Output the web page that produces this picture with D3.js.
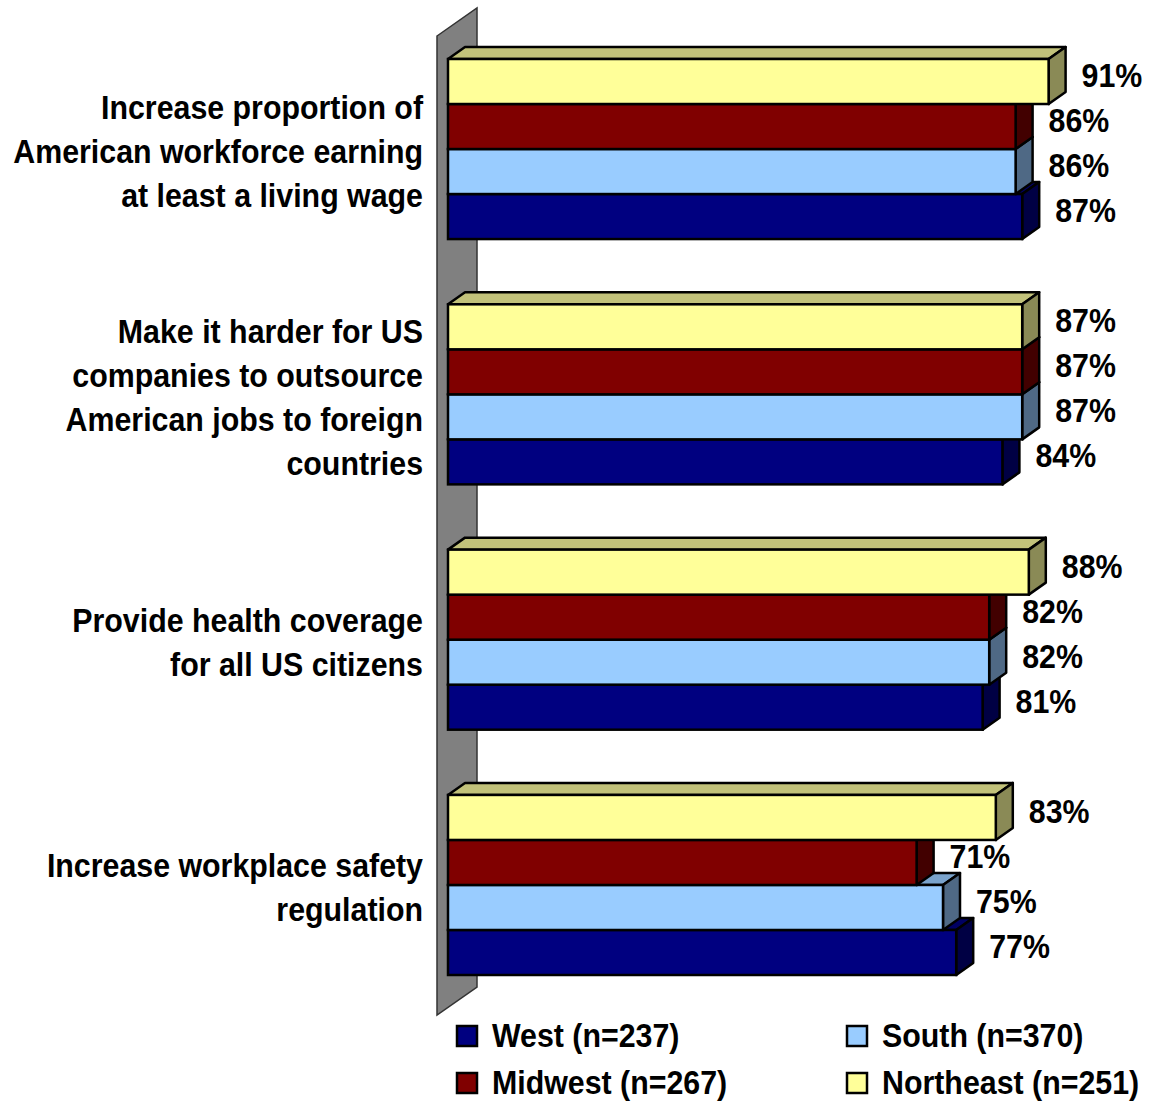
<!DOCTYPE html>
<html>
<head>
<meta charset="utf-8">
<script src="https://cdn.jsdelivr.net/npm/d3@7"></script>
<style>
  html, body { margin: 0; padding: 0; background: #fff; }
  svg text { font-family: "Liberation Sans", Arial, "DejaVu Sans", sans-serif; font-weight: bold; fill: #000; }
</style>
</head>
<body>
<svg id="chart" width="1156" height="1104"></svg>
<script>
const categories = [
  ["Increase proportion of", "American workforce earning", "at least a living wage"],
  ["Make it harder for US", "companies to outsource", "American jobs to foreign", "countries"],
  ["Provide health coverage", "for all US citizens"],
  ["Increase workplace safety", "regulation"]
];
const categoryKeys = ["living_wage", "outsource", "health", "safety"];
const seriesNames = ["Northeast", "Midwest", "South", "West"];
const legendLabels = ["West (n=237)", "South (n=370)", "Midwest (n=267)", "Northeast (n=251)"];
const legendKeys = ["West", "South", "Midwest", "Northeast"];
const northeast = [91, 87, 88, 83];
const midwest = [86, 87, 82, 71];
const south = [86, 87, 82, 75];
const west = [87, 84, 81, 77];
const seriesValues = { Northeast: northeast, Midwest: midwest, South: south, West: west };

const colors = {
  Northeast: { front: "#FFFF99", top: "#C2C27A", side: "#8A8A56" },
  Midwest:   { front: "#800000", top: "#600000", side: "#420000" },
  South:     { front: "#99CCFF", top: "#7AA3CC", side: "#4F6985" },
  West:      { front: "#000080", top: "#000062", side: "#000044" }
};

const FS = 33;      // font size
const SX = 0.92;    // horizontal condensation (narrow face)

const svg = d3.select("#chart");
const x = d3.scaleLinear().domain([0, 100]).range([448, 1108]);
const y = d3.scaleBand().domain(categoryKeys).range([59, 975]).paddingInner(0.266).paddingOuter(0);
const ySub = d3.scaleBand().domain(seriesNames).range([0, y.bandwidth()]);
const dx = 17, dy = -12;
const wdx = 40, wdy = -28;

function addText(parent, tx, ty, str, anchor) {
  return parent.append("text")
    .attr("transform", `translate(${tx},${ty}) scale(${SX},1)`)
    .attr("text-anchor", anchor || "start")
    .attr("dominant-baseline", "central")
    .attr("font-size", FS)
    .text(str);
}

// wall
const wx0 = x(0) - 11;
const wTop = y.range()[0] - 23, wBot = y.range()[1] + 40;
svg.append("polygon")
  .attr("points", [[wx0, wTop], [wx0 + wdx, wTop + wdy], [wx0 + wdx, wBot + wdy], [wx0, wBot]].map(p => p.join(",")).join(" "))
  .attr("fill", "#808080").attr("stroke", "#333").attr("stroke-width", 1.5);

const strokeW = 2.5;
categoryKeys.forEach((k, ci) => {
  // draw bottom to top within each group
  const order = seriesNames.slice().reverse();
  order.forEach(s => {
    const v = seriesValues[s][ci];
    const x0 = x(0), x1 = x(v);
    const y0 = y(k) + ySub(s), y1 = y0 + ySub.bandwidth();
    const g = svg.append("g");
    g.append("polygon")
      .attr("points", [[x0, y0], [x0 + dx, y0 + dy], [x1 + dx, y0 + dy], [x1, y0]].map(p => p.join(",")).join(" "))
      .attr("fill", colors[s].top).attr("stroke", "#000").attr("stroke-width", strokeW).attr("stroke-linejoin", "round");
    g.append("polygon")
      .attr("points", [[x1, y0], [x1 + dx, y0 + dy], [x1 + dx, y1 + dy], [x1, y1]].map(p => p.join(",")).join(" "))
      .attr("fill", colors[s].side).attr("stroke", "#000").attr("stroke-width", strokeW).attr("stroke-linejoin", "round");
    g.append("rect")
      .attr("x", x0).attr("y", y0).attr("width", x1 - x0).attr("height", y1 - y0)
      .attr("fill", colors[s].front).attr("stroke", "#000").attr("stroke-width", strokeW);
  });
  // value labels
  seriesNames.forEach(s => {
    const v = seriesValues[s][ci];
    const yc = y(k) + ySub(s) + ySub.bandwidth() / 2 + dy / 2;
    addText(svg, x(v) + dx + 16, yc, v + "%");
  });
  // category label
  const lines = categories[ci];
  const lh = 44;
  const yc = y(k) + y.bandwidth() / 2 + 3;
  lines.forEach((ln, i) => {
    addText(svg, 423, yc + (i - (lines.length - 1) / 2) * lh, ln, "end");
  });
});

// legend
const legX = [457, 847], legY = [1036, 1083];
legendKeys.forEach((s, i) => {
  const col = i % 2, row = Math.floor(i / 2);
  const lx = legX[col], ly = legY[row];
  svg.append("rect").attr("x", lx).attr("y", ly - 10).attr("width", 20).attr("height", 20)
    .attr("fill", colors[s].front).attr("stroke", "#000").attr("stroke-width", 2.5);
  addText(svg, lx + 35, ly, legendLabels[i]);
});
</script>
</body>
</html>
